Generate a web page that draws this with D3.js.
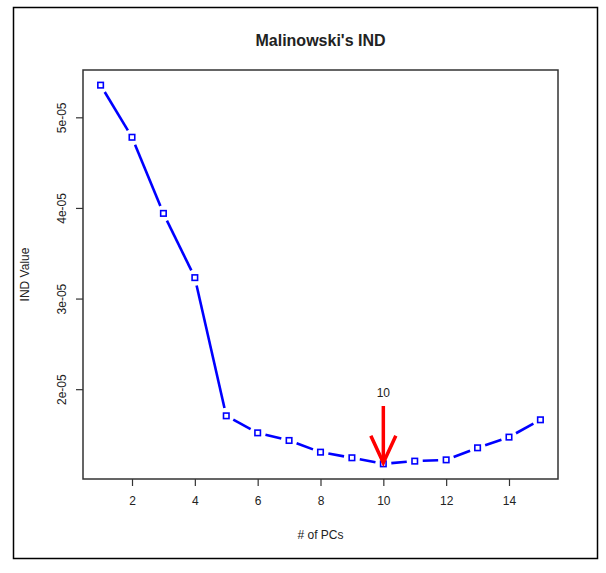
<!DOCTYPE html>
<html>
<head>
<meta charset="utf-8">
<script src="https://cdn.jsdelivr.net/npm/d3@7"></script>
<style>
  html, body { margin: 0; padding: 0; background: #fff; }
  svg { display: block; }
  text { font-family: "Liberation Sans", Arial, sans-serif; fill: #222; }
</style>
</head>
<body>
<svg id="chart" width="606" height="573"></svg>
<script>
// ---- data ----
const pcs = [1, 2, 3, 4, 5, 6, 7, 8, 9, 10, 11, 12, 13, 14, 15];
const indValues = [5.355e-5, 4.78e-5, 3.94e-5, 3.231e-5, 1.706e-5, 1.518e-5, 1.434e-5,
                   1.305e-5, 1.243e-5, 1.176e-5, 1.206e-5, 1.22e-5, 1.353e-5, 1.471e-5, 1.662e-5];
const xTicks = [2, 4, 6, 8, 10, 12, 14];
const yTicks = [2e-5, 3e-5, 4e-5, 5e-5];
const yTickLabels = ["2e-05", "3e-05", "4e-05", "5e-05"];
const chartTitle = "Malinowski's IND";
const xLabel = "# of PCs";
const yLabel = "IND Value";
const markedPC = 10;

// ---- layout ----
const svg = d3.select("#chart");
const box = { left: 83, right: 558, top: 70, bottom: 479 };

const xPad = (d3.max(pcs) - d3.min(pcs)) * 0.04;
const x = d3.scaleLinear()
  .domain([d3.min(pcs) - xPad, d3.max(pcs) + xPad])
  .range([box.left, box.right]);
const yExt = d3.extent(indValues);
const yPad = (yExt[1] - yExt[0]) * 0.04;
const y = d3.scaleLinear()
  .domain([yExt[0] - yPad, yExt[1] + yPad])
  .range([box.bottom, box.top]);

// outer frame
svg.append("rect")
  .attr("x", 13.5).attr("y", 7.5)
  .attr("width", 584).attr("height", 551)
  .attr("fill", "none").attr("stroke", "#000").attr("stroke-width", 1.5);

// title
svg.append("text")
  .attr("x", (box.left + box.right) / 2).attr("y", 46)
  .attr("text-anchor", "middle")
  .style("font-size", "16px").style("font-weight", "bold")
  .text(chartTitle);

// plot box
svg.append("rect")
  .attr("x", box.left).attr("y", box.top)
  .attr("width", box.right - box.left).attr("height", box.bottom - box.top)
  .attr("fill", "none").attr("stroke", "#333").attr("stroke-width", 1.5);

// x axis
const xAxis = d3.axisBottom(x).tickValues(xTicks).tickSize(7).tickPadding(10).tickFormat(d3.format("d"));
const gx = svg.append("g").attr("transform", `translate(0,${box.bottom})`).call(xAxis);
gx.select(".domain").remove();
gx.selectAll(".tick line").attr("stroke", "#333").attr("stroke-width", 1.2);
gx.selectAll(".tick text").style("font-size", "12px").style("font-family", "Liberation Sans, Arial, sans-serif").attr("fill", "#222");

// y axis
const yAxis = d3.axisLeft(y).tickValues(yTicks).tickSize(7)
  .tickFormat((d, i) => yTickLabels[i]);
const gy = svg.append("g").attr("transform", `translate(${box.left},0)`).call(yAxis);
gy.select(".domain").remove();
gy.selectAll(".tick line").attr("stroke", "#333").attr("stroke-width", 1.2);
gy.selectAll(".tick text")
  .attr("x", null).attr("dy", null)
  .attr("transform", "translate(-21,0) rotate(-90)")
  .attr("text-anchor", "middle")
  .attr("dy", "0.35em")
  .style("font-size", "12px").style("font-family", "Liberation Sans, Arial, sans-serif").attr("fill", "#222");

// axis labels
svg.append("text")
  .attr("x", (box.left + box.right) / 2).attr("y", 539)
  .attr("text-anchor", "middle").style("font-size", "12px")
  .text(xLabel);
svg.append("text")
  .attr("transform", `translate(25,${(box.top + box.bottom) / 2}) rotate(-90)`)
  .attr("text-anchor", "middle").attr("dy", "0.35em").style("font-size", "12px")
  .text(yLabel);

// line segments with gaps around points (type = "b")
const pts = pcs.map((p, i) => ({ px: x(p), py: y(indValues[i]) }));
const gap = 8;
const segs = [];
for (let i = 0; i < pts.length - 1; i++) {
  const a = pts[i], b = pts[i + 1];
  const dx = b.px - a.px, dy = b.py - a.py;
  const len = Math.hypot(dx, dy);
  if (len > 2 * gap) {
    const ux = dx / len, uy = dy / len;
    segs.push({ x1: a.px + ux * gap, y1: a.py + uy * gap, x2: b.px - ux * gap, y2: b.py - uy * gap });
  }
}
svg.append("g").selectAll("line").data(segs).join("line")
  .attr("x1", d => d.x1).attr("y1", d => d.y1)
  .attr("x2", d => d.x2).attr("y2", d => d.y2)
  .attr("stroke", "#0000ff").attr("stroke-width", 2.6);

// points: open squares
const sq = 5.5;
svg.append("g").selectAll("rect").data(pts).join("rect")
  .attr("x", d => d.px - sq / 2).attr("y", d => d.py - sq / 2)
  .attr("width", sq).attr("height", sq)
  .attr("fill", "none").attr("stroke", "#0000ff").attr("stroke-width", 1.6);

// red arrow marking the selected PC
const ax = x(markedPC);
const tipY = y(indValues[pcs.indexOf(markedPC)]) - 1;
const arrow = svg.append("g").attr("stroke", "#ff0000").attr("stroke-width", 3.5)
  .attr("fill", "none").attr("stroke-linecap", "butt");
arrow.append("line").attr("x1", ax).attr("y1", 406).attr("x2", ax).attr("y2", tipY);
arrow.append("path")
  .attr("d", `M${ax - 12.5},${tipY - 27} L${ax},${tipY} L${ax + 12.5},${tipY - 27}`)
  .attr("stroke-linejoin", "miter");
svg.append("text")
  .attr("x", ax).attr("y", 397)
  .attr("text-anchor", "middle").style("font-size", "12px")
  .text(String(markedPC));
</script>
</body>
</html>
